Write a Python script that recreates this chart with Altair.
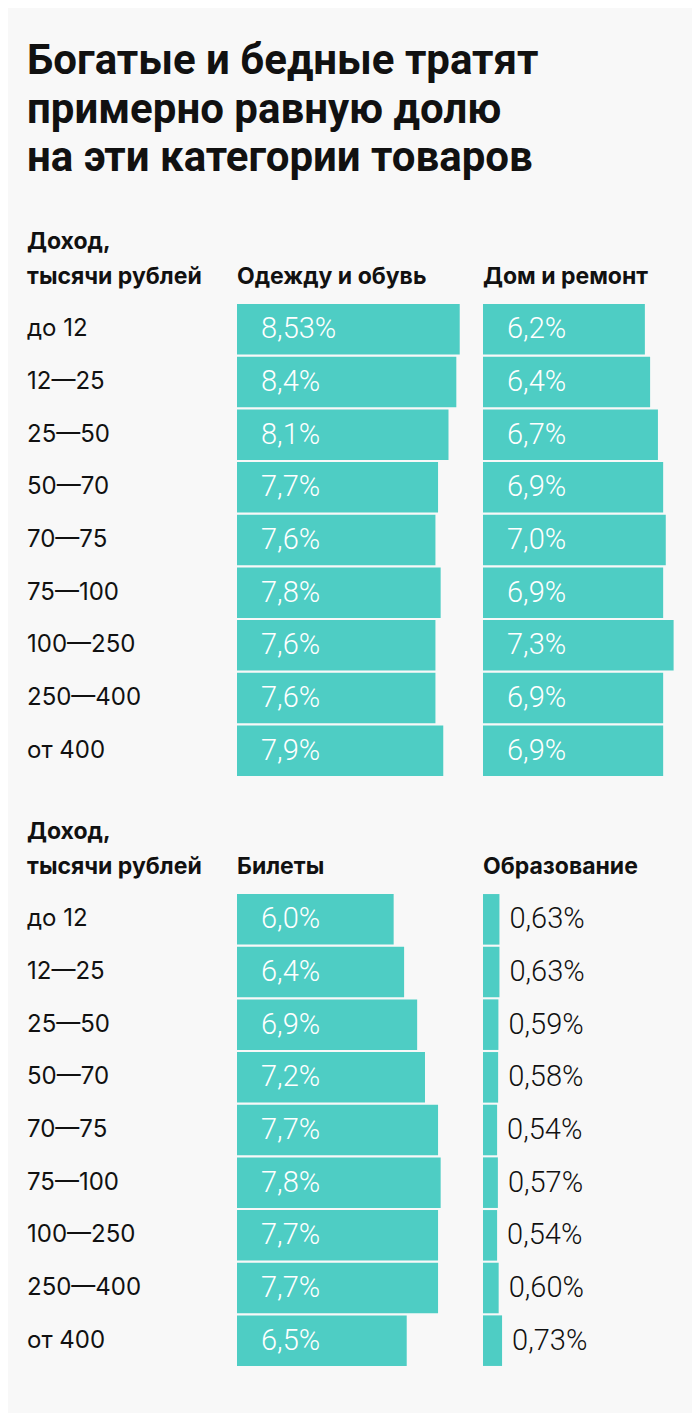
import altair as alt
import pandas as pd

incomes = ["до 12", "12—25", "25—50", "50—70", "70—75", "75—100", "100—250", "250—400", "от 400"]
clothes = [8.53, 8.4, 8.1, 7.7, 7.6, 7.8, 7.6, 7.6, 7.9]
home = [6.2, 6.4, 6.7, 6.9, 7.0, 6.9, 7.3, 6.9, 6.9]
tickets = [6.0, 6.4, 6.9, 7.2, 7.7, 7.8, 7.7, 7.7, 6.5]
education = [0.63, 0.63, 0.59, 0.58, 0.54, 0.57, 0.54, 0.60, 0.73]

title_lines = ["Богатые и бедные тратят", "примерно равную долю", "на эти категории товаров"]
income_header = ["Доход,", "тысячи рублей"]

TEAL = "#4ecdc4"
BG = "#f8f8f8"
PX_PER_PCT = 26.11
ROW_H = 474


def fmt(v, d=None):
    if d is None:
        d = 1 if abs(round(v, 1) - v) < 1e-9 else 2
    return f"{v:.{d}f}".replace(".", ",") + "%"


def frame(values, d=None):
    return pd.DataFrame({"income": incomes, "v": values, "label": [fmt(v, d) for v in values]})


yenc = alt.Y("income:N", sort=incomes, axis=None,
             scale=alt.Scale(paddingInner=0.04, paddingOuter=0.02))


def header(text):
    lines = text if isinstance(text, list) else [" ", text]
    return alt.TitleParams(text=lines, anchor="start", font="Inter", fontSize=23,
                           fontWeight="bold", color="#111111", lineHeight=35, offset=14)


def label_panel():
    df = pd.DataFrame({"income": incomes})
    return alt.Chart(df, title=header(income_header)).mark_text(
        align="left", baseline="middle", font="Inter", fontSize=24, color="#111111"
    ).encode(x=alt.value(0), y=yenc, text="income:N").properties(width=199, height=ROW_H)


def bar_panel(values, title, width, inside=True, d=None):
    df = frame(values, d)
    dom = width / PX_PER_PCT
    x = alt.X("v:Q", axis=None, scale=alt.Scale(domain=[0, dom], nice=False, zero=True))
    base = alt.Chart(df, title=header(title))
    bars = base.mark_bar(color=TEAL, cornerRadius=0).encode(x=x, y=yenc)
    if inside:
        txt = base.mark_text(align="left", baseline="middle", font="Roboto", fontWeight=300,
                             fontSize=29, color="#ffffff").encode(
            x=alt.value(24), y=yenc, text="label:N")
    else:
        txt = base.mark_text(align="left", baseline="middle", font="Roboto", fontWeight=300,
                             fontSize=29, color="#111111", dx=10).encode(
            x=x, y=yenc, text="label:N")
    return alt.layer(bars, txt).properties(width=width, height=ROW_H)


sec1 = alt.hconcat(label_panel(), bar_panel(clothes, "Одежду и обувь", 235),
                   bar_panel(home, "Дом и ремонт", 200), spacing=11)
sec2 = alt.hconcat(label_panel(), bar_panel(tickets, "Билеты", 235),
                   bar_panel(education, "Образование", 200, inside=False, d=2), spacing=11)

chart = alt.vconcat(sec1, sec2, spacing=44).properties(
    title=alt.TitleParams(text=title_lines, anchor="start", font="Roboto", fontSize=42,
                          fontWeight="bold", color="#111111", lineHeight=48.5, offset=51),
    padding={"left": 19, "top": 32, "right": 9, "bottom": 46},
    background=BG,
).configure_view(stroke=None)

chart.save("out.html", embed_options={"renderer": "svg", "actions": False})
